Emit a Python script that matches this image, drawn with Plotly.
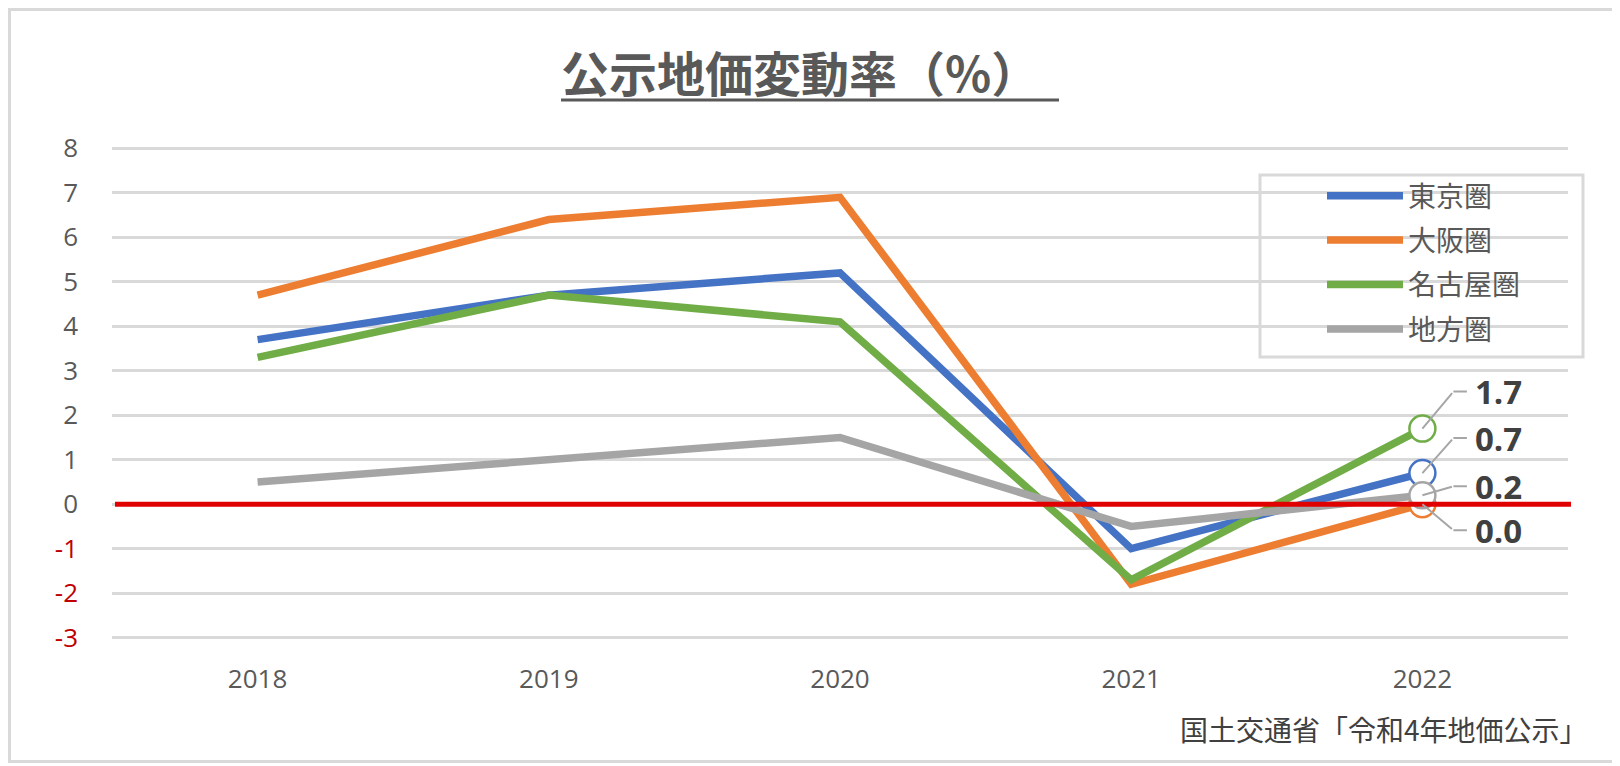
import plotly.graph_objects as go

# ---------------- data ----------------
years = ["2018", "2019", "2020", "2021", "2022"]
series_names = ["東京圏", "大阪圏", "名古屋圏", "地方圏"]
tokyo = [3.7, 4.7, 5.2, -1.0, 0.7]
osaka = [4.7, 6.4, 6.9, -1.8, 0.0]
nagoya = [3.3, 4.7, 4.1, -1.7, 1.7]
chiho = [0.5, 1.0, 1.5, -0.5, 0.2]
y_tick_values = [8, 7, 6, 5, 4, 3, 2, 1, 0, -1, -2, -3]
title_text = "公示地価変動率（%）"
source_text = "国土交通省「令和4年地価公示」"

series_values = [tokyo, osaka, nagoya, chiho]

# ---------------- styles ----------------
colors = ["#4472C4", "#ED7D31", "#70AD47", "#A5A5A5"]
OFF = 8  # page body margin in the browser
W, H = 1620 - OFF, 766 - OFF
# plot area in screen pixels: x 112..1568, y 135..651
SX0, SX1, SY0, SY1 = 112, 1568, 135, 651
ML, MR = SX0 - OFF, W - (SX1 - OFF)
MT, MB = SY0 - OFF, H - (SY1 - OFF)
PW, PH = SX1 - SX0, SY1 - SY0
GRAY_TXT = "#595959"
GRID = "#d9d9d9"
LATIN = "Open Sans"
CJK = "Noto Sans CJK JP"

def px(xs):
    return (xs - SX0) / PW

def py(ys):
    return (SY1 - ys) / PH

# label leader offsets (elbow offset from point in px; +y is down) per series
leader_offsets = {0: (31, -35), 1: (31, 26), 2: (31, -37), 3: (31, -9)}

fig = go.Figure()

for i, (name, vals) in enumerate(zip(series_names, series_values)):
    fig.add_trace(go.Scatter(
        x=years, y=vals, mode="lines", name=name,
        line=dict(color=colors[i], width=7.5),
        legendgroup=name,
    ))

for i, (name, vals) in enumerate(zip(series_names, series_values)):
    fig.add_trace(go.Scatter(
        x=[years[-1]], y=[vals[-1]], mode="markers", showlegend=False,
        marker=dict(size=26, color="white", line=dict(color=colors[i], width=2.5)),
        hoverinfo="skip", legendgroup=name,
    ))

y_tick_text = []
for v in y_tick_values:
    if v < 0:
        y_tick_text.append(f"<span style='color:#C00000'>{v}</span>")
    else:
        y_tick_text.append(str(v))

shapes = [
    # outer frame
    dict(type="rect", xref="paper", yref="paper",
         x0=px(OFF + 1.5), x1=px(1614.5), y0=py(761.5), y1=py(OFF + 1.5),
         line=dict(color=GRID, width=3), layer="below"),
    # legend frame
    dict(type="rect", xref="paper", yref="paper",
         x0=px(1260), x1=px(1583), y0=py(357), y1=py(175),
         line=dict(color=GRID, width=3), fillcolor="white", layer="between"),
    # title underline
    dict(type="line", xref="paper", yref="paper",
         x0=px(561), x1=px(1059), y0=py(100), y1=py(100),
         line=dict(color=GRAY_TXT, width=3)),
    # red zero line
    dict(type="line", xref="paper", yref="y",
         x0=px(115), x1=px(1571), y0=0, y1=0,
         line=dict(color="#E00000", width=5), layer="above"),
]

annotations = []
last_idx = len(years) - 1
for i, vals in enumerate(series_values):
    v = vals[-1]
    dx, dy = leader_offsets[i]
    annotations.append(dict(
        x=last_idx, y=v, xref="x", yref="y", text="", showarrow=True,
        arrowhead=0, arrowwidth=2, arrowcolor="#A6A6A6", ax=dx, ay=dy,
        standoff=0, startstandoff=0))
    annotations.append(dict(
        x=last_idx, y=v, xref="x", yref="y", text="", showarrow=True,
        arrowhead=0, arrowwidth=2, arrowcolor="#A6A6A6", ax=15, ay=0,
        xshift=dx, yshift=-dy, standoff=0, startstandoff=0))
    annotations.append(dict(
        x=last_idx, y=v, xref="x", yref="y", text=f"<b>{v:.1f}</b>",
        showarrow=False, xanchor="left", yanchor="middle",
        xshift=dx + 20, yshift=-dy,
        font=dict(family=LATIN, size=33, color="#404040")))

annotations.append(dict(
    x=px(1178), y=py(729), xref="paper", yref="paper", text=source_text,
    showarrow=False, xanchor="left", yanchor="middle",
    font=dict(family=CJK, size=28, color="#404040")))

fig.update_layout(
    width=W, height=H,
    margin=dict(l=ML, r=MR, t=MT, b=MB),
    paper_bgcolor="white", plot_bgcolor="white",
    title=dict(text=f"<b>{title_text}</b>", x=(561 - OFF) / W, xanchor="left",
               xref="container", y=1 - (75 - OFF) / H, yref="container",
               yanchor="middle",
               font=dict(family=CJK, size=48, color=GRAY_TXT)),
    xaxis=dict(type="category", range=[-0.5, len(years) - 0.5],
               showgrid=False, zeroline=False, showline=False, ticks="",
               tickfont=dict(family=LATIN, size=26, color=GRAY_TXT),
               ticklabelstandoff=10),
    yaxis=dict(range=[-3.3, 8.3], tickvals=y_tick_values, ticktext=y_tick_text,
               showgrid=True, gridcolor=GRID, gridwidth=3,
               zeroline=False, showline=False, ticks="",
               tickfont=dict(family=LATIN, size=26, color=GRAY_TXT),
               ticklabelstandoff=33),
    legend=dict(x=px(1322), y=py(171), xanchor="left", yanchor="top",
                bgcolor="rgba(0,0,0,0)", borderwidth=0,
                font=dict(family=CJK, size=28, color=GRAY_TXT),
                itemwidth=76, tracegroupgap=5, traceorder="grouped"),
    shapes=shapes,
    annotations=annotations,
    showlegend=True,
)

fig.write_html("out.html")
